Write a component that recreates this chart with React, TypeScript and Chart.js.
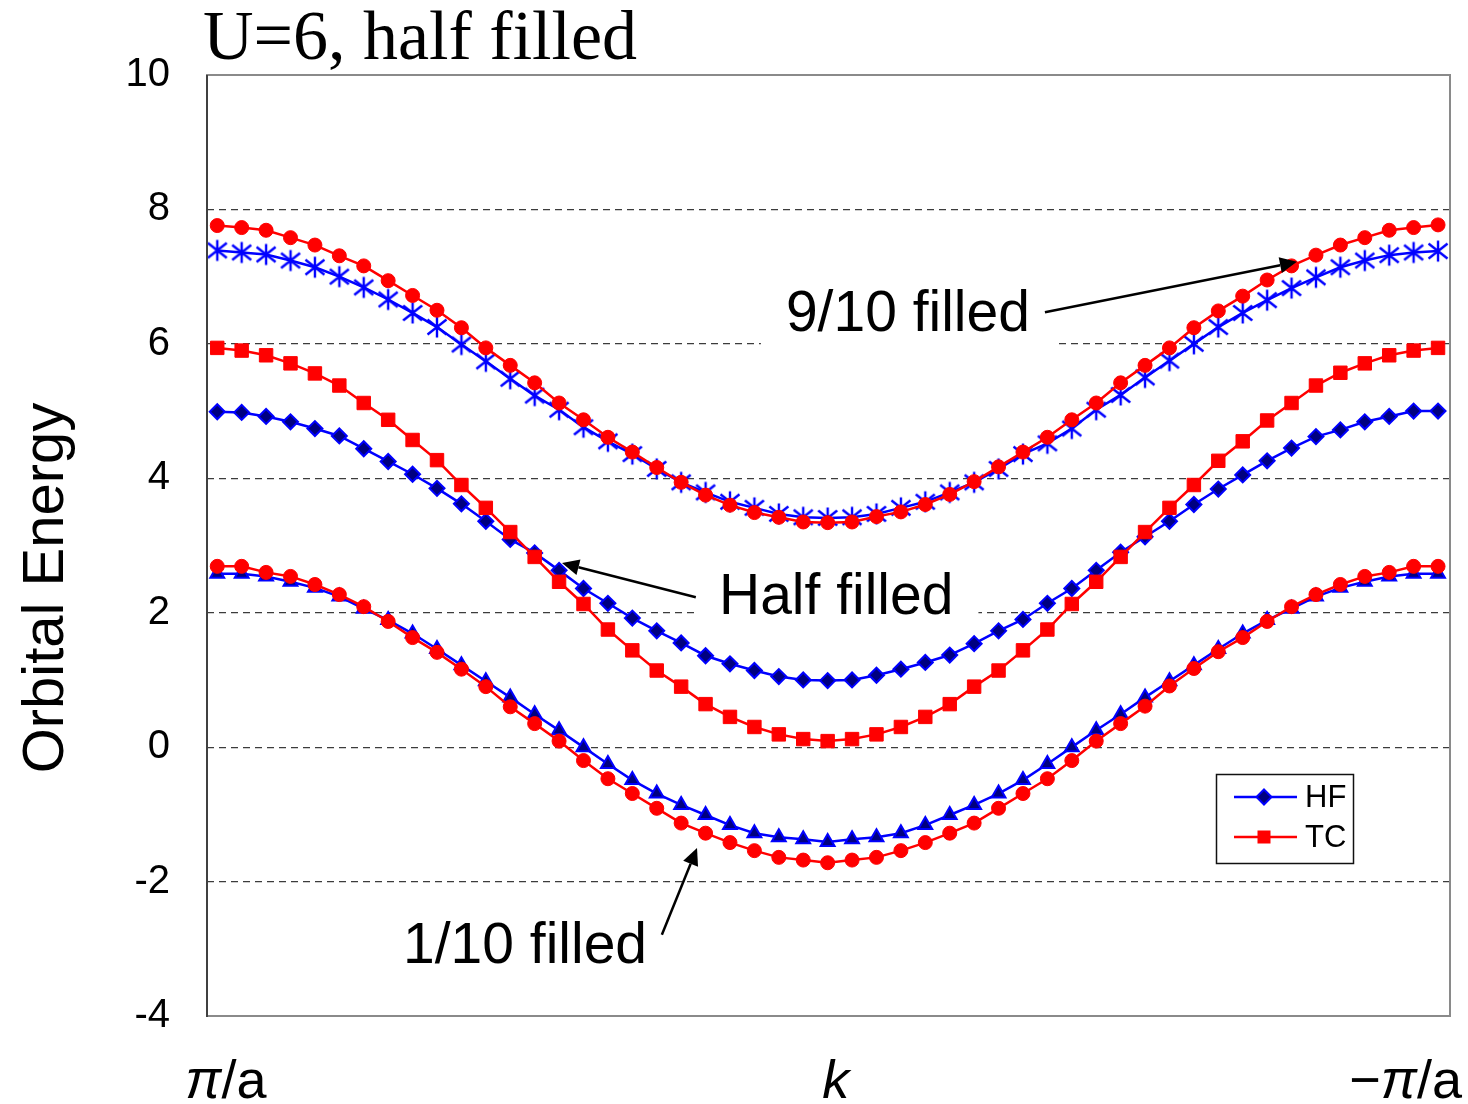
import React, { useEffect, useRef } from "react";
import { Chart, registerables } from "chart.js";

Chart.register(...registerables);

// ---------------- data ----------------
const titleText = "U=6, half filled";
const yAxisTitle = "Orbital Energy";
const kLabels = ["π/a", "k", "−π/a"];
const seriesNames = ["HF", "TC"];
const annotationTexts = ["9/10 filled", "Half filled", "1/10 filled"];

const hf110 = [
  2.58, 2.58, 2.54, 2.46, 2.37, 2.24, 2.06, 1.89, 1.69, 1.46, 1.22, 0.98, 0.74, 0.49, 0.25, 0.0, -0.25, -0.49, -0.69, -0.86,
  -1.01, -1.16, -1.28, -1.34, -1.37, -1.41, -1.37, -1.34, -1.28, -1.16, -1.01, -0.86, -0.69, -0.49, -0.25, 0.0, 0.25, 0.49,
  0.74, 0.98, 1.22, 1.46, 1.69, 1.89, 2.06, 2.24, 2.37, 2.46, 2.54, 2.58, 2.58,
];
const tc110 = [
  2.69, 2.69, 2.6, 2.54, 2.42, 2.27, 2.09, 1.87, 1.63, 1.41, 1.16, 0.9, 0.6, 0.35, 0.09, -0.2, -0.47, -0.69, -0.91, -1.13,
  -1.28, -1.42, -1.54, -1.64, -1.68, -1.72, -1.68, -1.64, -1.54, -1.42, -1.28, -1.13, -0.91, -0.69, -0.47, -0.2, 0.09, 0.35,
  0.61, 0.91, 1.17, 1.42, 1.63, 1.87, 2.09, 2.27, 2.42, 2.54, 2.6, 2.69, 2.69,
];
const hfHalf = [
  4.99, 4.98, 4.92, 4.84, 4.74, 4.63, 4.44, 4.25, 4.06, 3.85, 3.62, 3.36, 3.09, 2.89, 2.63, 2.36, 2.14, 1.92, 1.73, 1.55,
  1.36, 1.24, 1.14, 1.05, 1.0, 0.99, 1.0, 1.07, 1.16, 1.26, 1.37, 1.54, 1.73, 1.9, 2.14, 2.36, 2.63, 2.9, 3.13, 3.36, 3.61,
  3.84, 4.05, 4.26, 4.45, 4.62, 4.72, 4.84, 4.92, 5.0, 5.0,
];
const tcHalf = [
  5.94, 5.9, 5.83, 5.71, 5.56, 5.38, 5.12, 4.87, 4.57, 4.27, 3.9, 3.56, 3.2, 2.83, 2.46, 2.13, 1.75, 1.44, 1.14, 0.9, 0.64,
  0.45, 0.3, 0.19, 0.12, 0.09, 0.12, 0.19, 0.3, 0.45, 0.64, 0.9, 1.14, 1.44, 1.75, 2.13, 2.46, 2.83, 3.2, 3.56, 3.9, 4.26,
  4.55, 4.86, 5.12, 5.38, 5.57, 5.71, 5.83, 5.9, 5.94,
];
const hf910 = [
  7.39, 7.36, 7.33, 7.24, 7.14, 7.0, 6.84, 6.66, 6.46, 6.25, 5.99, 5.74, 5.48, 5.23, 5.02, 4.76, 4.55, 4.36, 4.14, 3.94,
  3.79, 3.65, 3.56, 3.47, 3.42, 3.41, 3.42, 3.47, 3.56, 3.65, 3.79, 3.94, 4.14, 4.36, 4.52, 4.74, 5.02, 5.24, 5.5, 5.75, 6.0,
  6.25, 6.46, 6.65, 6.83, 6.99, 7.14, 7.24, 7.32, 7.36, 7.38,
];
const tc910 = [
  7.76, 7.73, 7.69, 7.58, 7.47, 7.31, 7.16, 6.94, 6.72, 6.5, 6.24, 5.94, 5.68, 5.42, 5.12, 4.87, 4.61, 4.39, 4.16, 3.94,
  3.75, 3.6, 3.49, 3.42, 3.35, 3.34, 3.35, 3.43, 3.5, 3.61, 3.76, 3.95, 4.17, 4.39, 4.61, 4.87, 5.12, 5.42, 5.68, 5.94, 6.24,
  6.49, 6.71, 6.95, 7.16, 7.32, 7.47, 7.58, 7.69, 7.73, 7.77,
];

// annotation anchors in data coordinates (k index, energy)
const annotationLayout = [
  { text: annotationTexts[0], at: [23.29, 6.19], from: [33.9, 6.47], to: [44.22, 7.22] },
  { text: annotationTexts[1], at: [20.55, 1.98], from: [19.6, 2.23], to: [14.12, 2.74] },
  { text: annotationTexts[2], at: [7.61, -3.21], from: [18.21, -2.79], to: [19.65, -1.5] },
];

const BLUE = "#0000FF";
const NAVY = "#000080";
const RED = "#FF0000";
const SANS = "'Liberation Sans', Arial, sans-serif";
const SERIF = "'Liberation Serif', 'Times New Roman', serif";

function makeStar(): HTMLCanvasElement {
  const c = document.createElement("canvas");
  c.width = 24;
  c.height = 24;
  const g = c.getContext("2d")!;
  g.strokeStyle = BLUE;
  g.lineWidth = 2.4;
  g.beginPath();
  g.moveTo(12, 1.5);
  g.lineTo(12, 22.5);
  g.moveTo(2.5, 4.5);
  g.lineTo(21.5, 19.5);
  g.moveTo(2.5, 19.5);
  g.lineTo(21.5, 4.5);
  g.stroke();
  return c;
}

function drawArrow(ctx: CanvasRenderingContext2D, x1: number, y1: number, x2: number, y2: number) {
  const ang = Math.atan2(y2 - y1, x2 - x1);
  const L = 17;
  const W = 8;
  const bx = x2 - L * Math.cos(ang);
  const by = y2 - L * Math.sin(ang);
  ctx.save();
  ctx.strokeStyle = "#000";
  ctx.fillStyle = "#000";
  ctx.lineWidth = 2.5;
  ctx.beginPath();
  ctx.moveTo(x1, y1);
  ctx.lineTo(bx, by);
  ctx.stroke();
  ctx.beginPath();
  ctx.moveTo(x2, y2);
  ctx.lineTo(bx + W * Math.sin(ang), by - W * Math.cos(ang));
  ctx.lineTo(bx - W * Math.sin(ang), by + W * Math.cos(ang));
  ctx.closePath();
  ctx.fill();
  ctx.restore();
}

function drawSegments(
  ctx: CanvasRenderingContext2D,
  segs: { t: string; italic?: boolean }[],
  x: number,
  y: number,
  size: number,
  align: "left" | "center" | "right"
) {
  const fontOf = (s: { italic?: boolean }) => `${s.italic ? "italic " : ""}${size}px ${SANS}`;
  let total = 0;
  for (const s of segs) {
    ctx.font = fontOf(s);
    total += ctx.measureText(s.t).width;
  }
  let cx = align === "left" ? x : align === "center" ? x - total / 2 : x - total;
  ctx.textAlign = "left";
  for (const s of segs) {
    ctx.font = fontOf(s);
    ctx.fillText(s.t, cx, y);
    cx += ctx.measureText(s.t).width;
  }
}

const decor = {
  id: "decor",
  beforeDraw(chart: any) {
    const ctx = chart.ctx;
    ctx.save();
    ctx.fillStyle = "#fff";
    ctx.fillRect(0, 0, chart.width, chart.height);
    ctx.restore();
  },
  afterDatasetsDraw(chart: any) {
    const ctx: CanvasRenderingContext2D = chart.ctx;
    const a = chart.chartArea;
    const xs = chart.scales.x;
    const ys = chart.scales.y;
    ctx.save();

    // annotations
    ctx.font = `57px ${SANS}`;
    ctx.textBaseline = "alphabetic";
    for (const an of annotationLayout) {
      const tx = xs.getPixelForValue(an.at[0]);
      const ty = ys.getPixelForValue(an.at[1]);
      const w = ctx.measureText(an.text).width;
      ctx.fillStyle = "#fff";
      ctx.fillRect(tx - 25, ty - 48, w + 50, 68);
      ctx.fillStyle = "#000";
      ctx.textAlign = "left";
      ctx.fillText(an.text, tx, ty);
      drawArrow(
        ctx,
        xs.getPixelForValue(an.from[0]),
        ys.getPixelForValue(an.from[1]),
        xs.getPixelForValue(an.to[0]),
        ys.getPixelForValue(an.to[1])
      );
    }

    // plot frame
    ctx.strokeStyle = "#8a8a8a";
    ctx.lineWidth = 2;
    ctx.strokeRect(a.left, a.top, a.right - a.left, a.bottom - a.top);
    ctx.strokeStyle = "#404040";
    ctx.beginPath();
    ctx.moveTo(a.left, a.top);
    ctx.lineTo(a.left, a.bottom + 1);
    ctx.stroke();

    // legend
    const lx = 1216.5;
    const ly = 774.5;
    ctx.fillStyle = "#fff";
    ctx.fillRect(lx, ly, 137, 89);
    ctx.strokeStyle = "#111";
    ctx.lineWidth = 1.5;
    ctx.strokeRect(lx, ly, 137, 89);
    const rows = [
      { name: seriesNames[0], color: BLUE, y: 797 },
      { name: seriesNames[1], color: RED, y: 837 },
    ];
    rows.forEach((r, i) => {
      ctx.strokeStyle = r.color;
      ctx.lineWidth = 2.5;
      ctx.beginPath();
      ctx.moveTo(1234, r.y);
      ctx.lineTo(1297, r.y);
      ctx.stroke();
      if (i === 0) {
        ctx.fillStyle = NAVY;
        ctx.strokeStyle = BLUE;
        ctx.lineWidth = 2;
        ctx.beginPath();
        ctx.moveTo(1264, r.y - 7.5);
        ctx.lineTo(1271.5, r.y);
        ctx.lineTo(1264, r.y + 7.5);
        ctx.lineTo(1256.5, r.y);
        ctx.closePath();
        ctx.fill();
        ctx.stroke();
      } else {
        ctx.fillStyle = RED;
        ctx.fillRect(1257.5, r.y - 6.5, 13, 13);
      }
      ctx.fillStyle = "#000";
      ctx.font = `31px ${SANS}`;
      ctx.textAlign = "left";
      ctx.textBaseline = "middle";
      ctx.fillText(r.name, 1305, r.y + 1);
    });

    // title
    ctx.fillStyle = "#000";
    ctx.textBaseline = "alphabetic";
    ctx.textAlign = "left";
    ctx.font = `70px ${SERIF}`;
    ctx.fillText(titleText, 203, 59);

    // y axis title
    ctx.save();
    ctx.translate(63, 588);
    ctx.rotate(-Math.PI / 2);
    ctx.font = `58px ${SANS}`;
    ctx.textAlign = "center";
    ctx.fillText(yAxisTitle, 0, 0);
    ctx.restore();

    // k-axis labels
    ctx.fillStyle = "#000";
    ctx.textBaseline = "alphabetic";
    const bx = 1098;
    const p0 = xs.getPixelForValue(0);
    const pm = xs.getPixelForValue(25);
    const p1 = xs.getPixelForValue(50);
    const split = (s: string) => {
      const out: { t: string; italic?: boolean }[] = [];
      for (const ch of s) {
        const it = ch === "π" || ch === "k";
        const last = out[out.length - 1];
        if (last && !!last.italic === it) last.t += ch;
        else out.push({ t: ch, italic: it });
      }
      return out;
    };
    drawSegments(ctx, split(kLabels[0]), p0 - 32, bx, 54, "left");
    drawSegments(ctx, split(kLabels[1]), pm + 8, bx, 54, "center");
    drawSegments(ctx, split(kLabels[2]), p1 + 24, bx, 54, "right");

    ctx.restore();
  },
};

export default function App() {
  const ref = useRef<HTMLCanvasElement>(null);
  useEffect(() => {
    const canvas = ref.current!;
    const star = makeStar();
    const kIndex = hf110.map((_, i) => i);
    const pts = (arr: number[]) => arr.map((v, i) => ({ x: kIndex[i], y: v }));
    const base = { borderWidth: 2.5, tension: 0, fill: false };
    const chart = new Chart(canvas, {
      type: "line",
      data: {
        datasets: [
          {
            ...base, label: seriesNames[1], data: pts(tc910), borderColor: RED, pointStyle: "circle",
            pointRadius: 7, pointBackgroundColor: RED, pointBorderColor: RED, pointBorderWidth: 1, order: 0,
          },
          {
            ...base, label: seriesNames[1], data: pts(tcHalf), borderColor: RED, pointStyle: "rect",
            pointRadius: 9.5, pointBackgroundColor: RED, pointBorderColor: RED, pointBorderWidth: 1, order: 0,
          },
          {
            ...base, label: seriesNames[1], data: pts(tc110), borderColor: RED, pointStyle: "circle",
            pointRadius: 7, pointBackgroundColor: RED, pointBorderColor: RED, pointBorderWidth: 1, order: 0,
          },
          {
            ...base, label: seriesNames[0], data: pts(hf910), borderColor: BLUE, pointStyle: star as any,
            pointRadius: 10, pointBackgroundColor: BLUE, pointBorderColor: BLUE, order: 1,
          },
          {
            ...base, label: seriesNames[0], data: pts(hfHalf), borderColor: BLUE, pointStyle: "rectRot",
            pointRadius: 7.5, pointBackgroundColor: NAVY, pointBorderColor: BLUE, pointBorderWidth: 2, order: 1,
          },
          {
            ...base, label: seriesNames[0], data: pts(hf110), borderColor: BLUE, pointStyle: "triangle",
            pointRadius: 8, pointBackgroundColor: NAVY, pointBorderColor: BLUE, pointBorderWidth: 2, order: 1,
          },
        ] as any,
      },
      options: {
        animation: false,
        responsive: false,
        maintainAspectRatio: false,
        devicePixelRatio: 1,
        events: [],
        layout: { padding: { left: 0, top: 75, right: 18, bottom: 0 } },
        plugins: { legend: { display: false }, tooltip: { enabled: false }, title: { display: false } },
        scales: {
          x: {
            type: "linear",
            min: -0.42,
            max: 50.49,
            grid: { display: false },
            border: { display: false },
            ticks: { display: false },
            afterFit: (s: any) => {
              s.height = 88;
            },
          },
          y: {
            type: "linear",
            min: -4,
            max: 10,
            ticks: {
              stepSize: 2,
              color: "#000",
              padding: 37,
              font: { family: "'Liberation Sans', Arial, sans-serif", size: 40 },
            },
            grid: {
              drawTicks: false,
              lineWidth: 1.2,
              color: (c: any) =>
                c.tick && (c.tick.value === 10 || c.tick.value === -4) ? "rgba(0,0,0,0)" : "#3c3c3c",
            },
            border: { display: false, dash: [7, 5] },
            afterFit: (s: any) => {
              s.width = 207;
            },
          },
        },
      } as any,
      plugins: [decor],
    });
    return () => chart.destroy();
  }, []);
  return (
    <div style={{ position: "absolute", left: 0, top: 0, width: 1468, height: 1104, background: "#fff" }}>
      <canvas ref={ref} width={1468} height={1104} style={{ display: "block", width: 1468, height: 1104 }} />
    </div>
  );
}
